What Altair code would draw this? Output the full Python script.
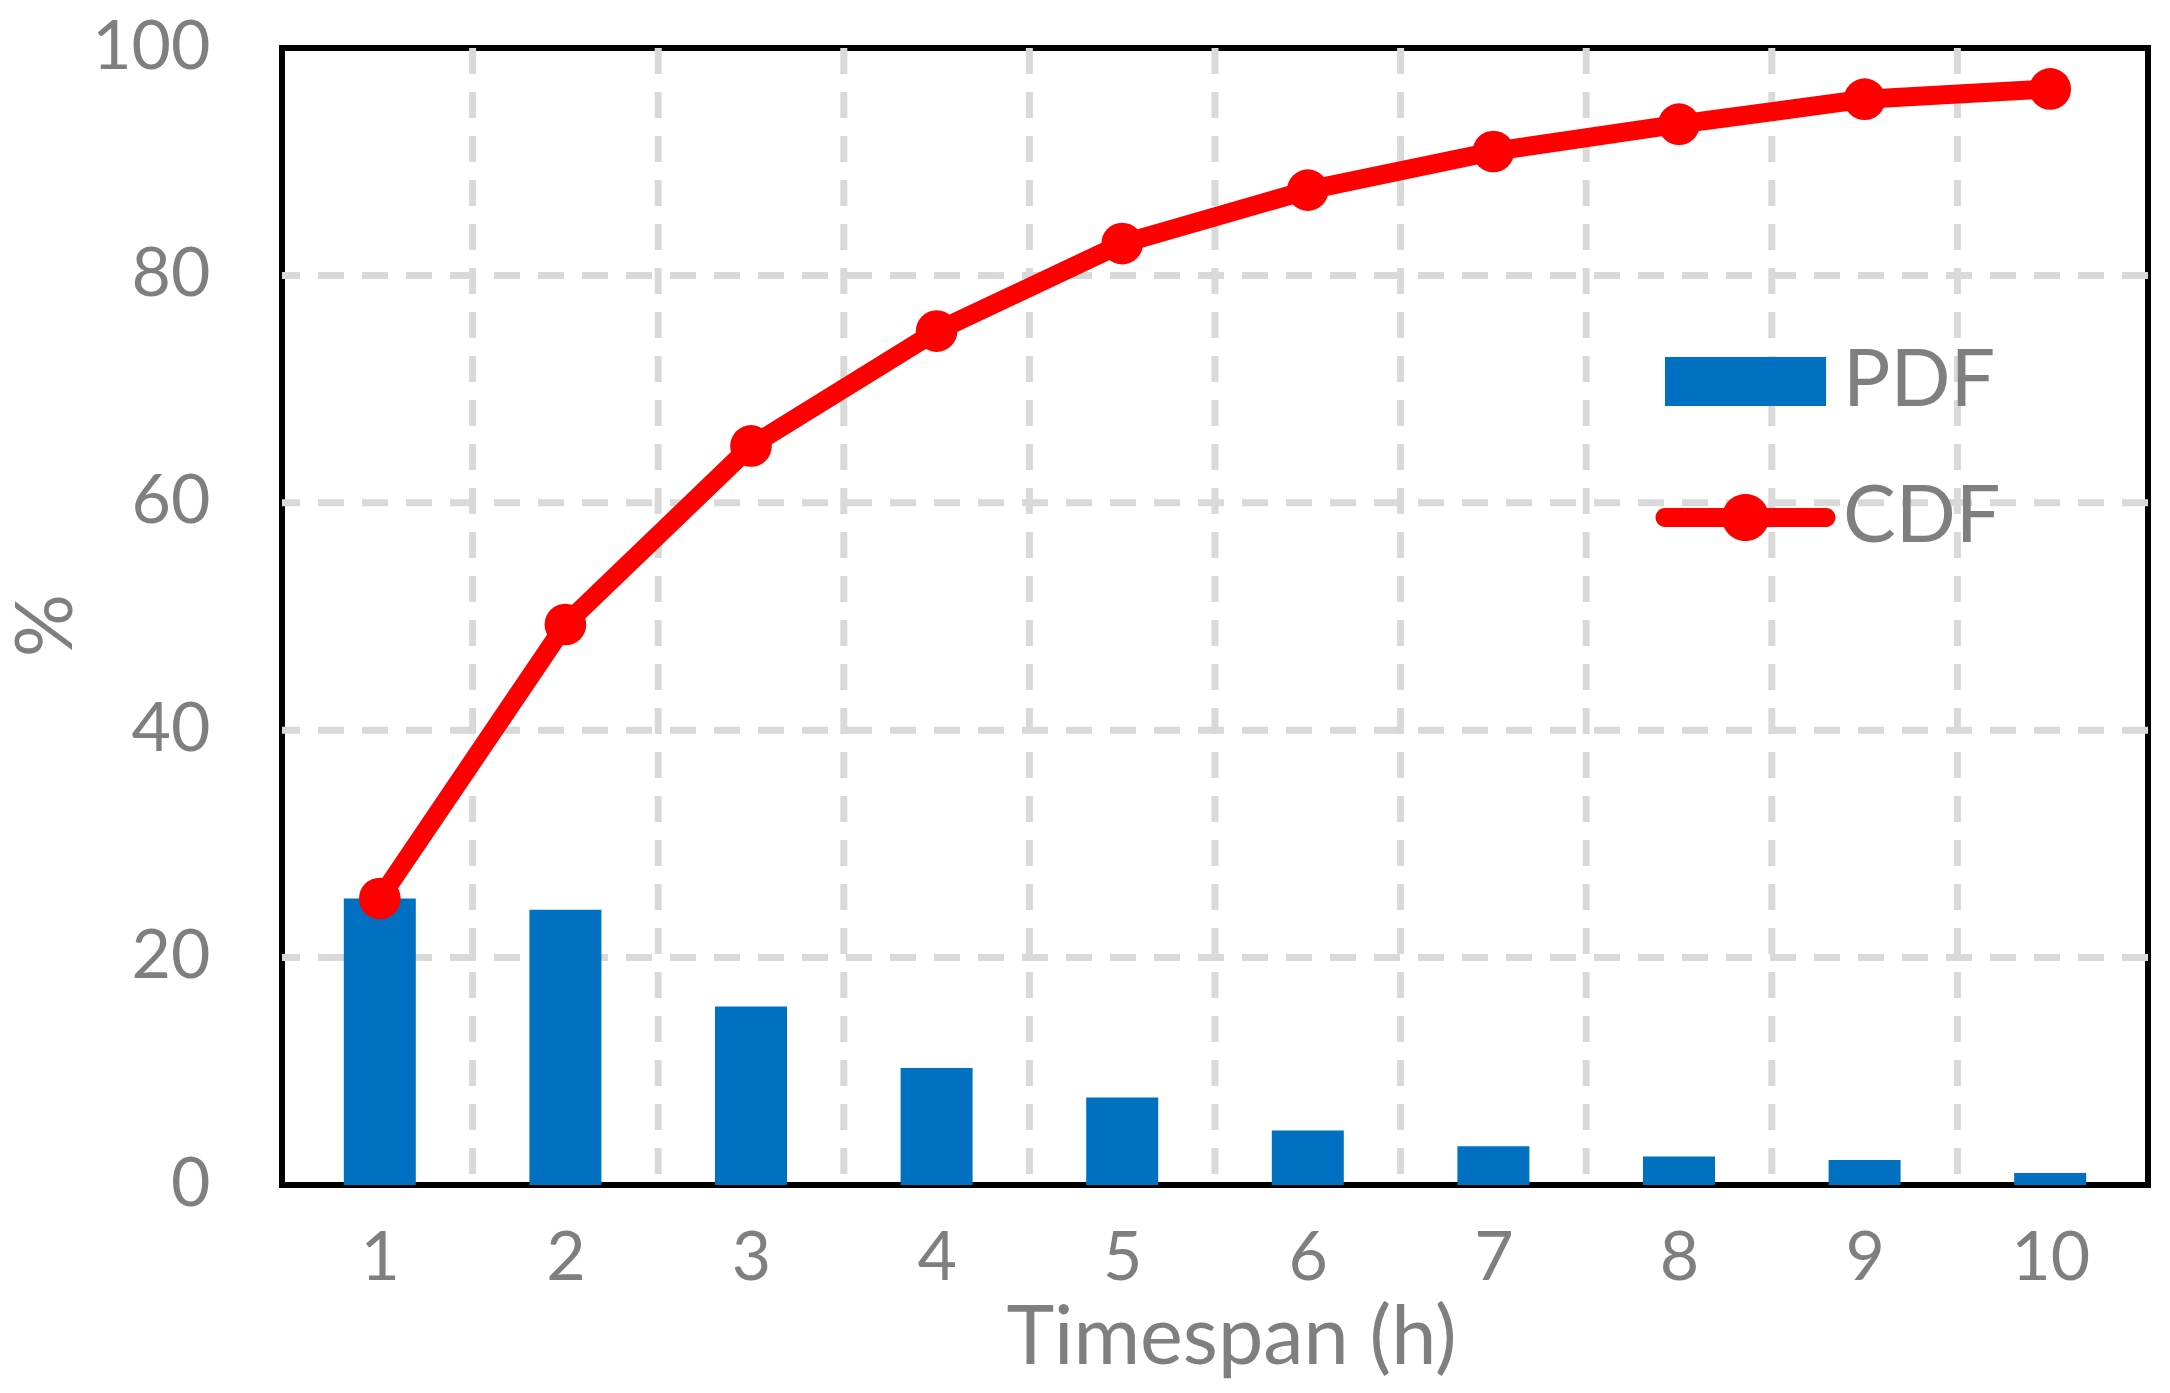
import altair as alt
import pandas as pd

# ---- data ----
hours = [1, 2, 3, 4, 5, 6, 7, 8, 9, 10]
pdf_values = [25.2, 24.2, 15.7, 10.3, 7.7, 4.8, 3.4, 2.5, 2.2, 1.05]
cdf_values = [25.2, 49.3, 65.0, 75.1, 82.8, 87.5, 90.9, 93.3, 95.5, 96.4]
y_ticks = [0, 20, 40, 60, 80, 100]
y_grid = [20, 40, 60, 80]
x_grid = [1.5, 2.5, 3.5, 4.5, 5.5, 6.5, 7.5, 8.5, 9.5]
series_names = ["PDF", "CDF"]

BLUE = "#0070C0"
RED = "#FF0000"
GRAY = "#7F7F7F"
GRID = "#D9D9D9"
FONT = "Lato"

bars_df = pd.DataFrame({"hour": hours, "value": pdf_values, "series": "PDF"})
cdf_df = pd.DataFrame({"hour": hours, "value": cdf_values})
ygrid_df = pd.DataFrame({"y": y_grid})
xgrid_df = pd.DataFrame({"x": x_grid})

x_scale = alt.Scale(domain=[0.5, 10.5], nice=False, zero=False)
y_scale = alt.Scale(domain=[0, 100], nice=False)

x_axis = alt.Axis(
    values=hours, format="d", title="Timespan (h)", grid=False, ticks=False,
    tickSize=0, domain=False, labelFont=FONT, labelFontSize=68, labelColor=GRAY,
    labelPadding=40, labelFlush=False, labelOverlap=False,
    titleFont=FONT, titleFontSize=81, titleColor=GRAY, titleFontWeight="normal",
    titleX=949, titleY=178, titleBaseline="alphabetic", titleAlign="center",
)
y_axis = alt.Axis(
    values=y_ticks, title="%", grid=False, ticks=False, tickSize=0, domain=False,
    labelFont=FONT, labelFontSize=68, labelColor=GRAY, labelPadding=72,
    labelBaseline="middle", labelFlush=False, labelOverlap=False,
    titleFont=FONT, titleFontSize=79, titleColor=GRAY, titleFontWeight="normal",
    titleAngle=270, titleX=-211, titleY=577, titleBaseline="alphabetic",
    titleAlign="center",
)

dash = [26, 18]
hgrid = alt.Chart(ygrid_df).mark_rule(color=GRID, strokeWidth=7, strokeDash=dash).encode(
    y=alt.Y("y:Q", scale=y_scale, axis=y_axis)
)
vgrid = alt.Chart(xgrid_df).mark_rule(color=GRID, strokeWidth=7, strokeDash=dash).encode(
    x=alt.X("x:Q", scale=x_scale, axis=x_axis)
)

pdf_path = "M-0.9,-0.274H0.9V0.274H-0.9Z"
cdf_path = ("M-0.9,-0.105H0.9A0.105,0.105 0 0,1 0.9,0.105H-0.9A0.105,0.105 0 0,1 -0.9,-0.105Z"
            "M-0.263,0A0.263,0.263 0 1,1 0.263,0A0.263,0.263 0 1,1 -0.263,0Z")

legend = alt.Legend(
    title=None, orient="none", legendX=1374, legendY=244,
    labelFont=FONT, labelFontSize=79, labelColor=GRAY, labelLimit=0,
    labelOffset=8, symbolSize=32041, symbolStrokeWidth=0, symbolOpacity=1,
    rowPadding=6, padding=0,
    symbolType=alt.ExprRef(expr=f"datum.value === 'PDF' ? '{pdf_path}' : '{cdf_path}'"),
)

bars = alt.Chart(bars_df).mark_bar(size=72, opacity=1).encode(
    x=alt.X("hour:Q", scale=x_scale, axis=x_axis),
    y=alt.Y("value:Q", scale=y_scale, axis=y_axis),
    color=alt.Color("series:N", scale=alt.Scale(domain=series_names, range=[BLUE, RED]),
                    legend=legend),
)

line = alt.Chart(cdf_df).mark_line(color=RED, strokeWidth=19, strokeJoin="round").encode(
    x=alt.X("hour:Q", scale=x_scale),
    y=alt.Y("value:Q", scale=y_scale),
)
points = alt.Chart(cdf_df).mark_point(color=RED, filled=True, size=1735, opacity=1).encode(
    x=alt.X("hour:Q", scale=x_scale),
    y=alt.Y("value:Q", scale=y_scale),
)

chart = alt.layer(hgrid, vgrid, bars, line, points).properties(
    width=1866, height=1137,
    autosize=alt.AutoSizeParams(type="none"),
    padding={"left": 274, "top": 40, "right": 14, "bottom": 200},
    background="white",
).configure_view(stroke="black", strokeWidth=6)

chart.save("out.html", embed_options={"renderer": "svg", "actions": False})
